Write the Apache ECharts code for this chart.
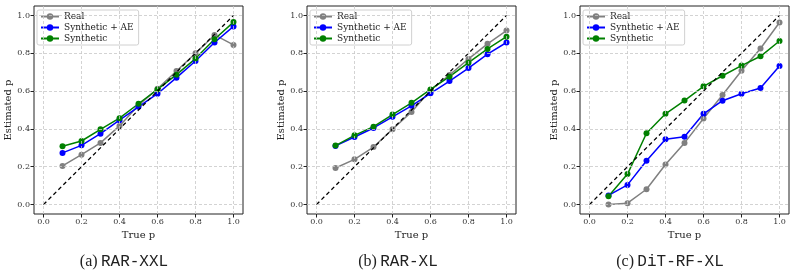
<!DOCTYPE html>
<html>
<head>
<meta charset="utf-8">
<script src="https://cdn.jsdelivr.net/npm/echarts@6/dist/echarts.min.js"></script>
<style>
  html, body { margin: 0; padding: 0; background: #fff; }
  #main { width: 796px; height: 276px; }
</style>
</head>
<body>
<div id="main"></div>
<script>
// true p on the x axis, shared by every panel
var trueP = [0.1, 0.2, 0.3, 0.4, 0.5, 0.6, 0.7, 0.8, 0.9, 1.0];
var tickValues = [0, 0.2, 0.4, 0.6, 0.8, 1.0];
var seriesNames = ['Real', 'Synthetic + AE', 'Synthetic'];
var seriesColors = ['#808080', '#0000ff', '#008000'];
var captions = [['(a)', 'RAR-XXL'], ['(b)', 'RAR-XL'], ['(c)', 'DiT-RF-XL']];

// (a) RAR-XXL
var realA  = [0.204, 0.264, 0.326, 0.416, 0.525, 0.612, 0.706, 0.800, 0.897, 0.844];
var aeA    = [0.273, 0.313, 0.375, 0.446, 0.517, 0.586, 0.671, 0.759, 0.857, 0.942];
var synthA = [0.308, 0.336, 0.398, 0.457, 0.533, 0.609, 0.687, 0.772, 0.874, 0.965];
// (b) RAR-XL
var realB  = [0.193, 0.239, 0.304, 0.398, 0.490, 0.605, 0.685, 0.770, 0.850, 0.920];
var aeB    = [0.310, 0.357, 0.405, 0.464, 0.522, 0.588, 0.653, 0.722, 0.795, 0.857];
var synthB = [0.312, 0.366, 0.412, 0.476, 0.538, 0.609, 0.676, 0.750, 0.823, 0.888];
// (c) DiT-RF-XL
var realC  = [0.000, 0.007, 0.081, 0.212, 0.326, 0.455, 0.579, 0.708, 0.825, 0.963];
var aeC    = [0.048, 0.104, 0.232, 0.345, 0.358, 0.480, 0.549, 0.586, 0.616, 0.733];
var synthC = [0.044, 0.161, 0.377, 0.480, 0.550, 0.625, 0.681, 0.735, 0.784, 0.865];

var panels = [[realA, aeA, synthA], [realB, aeB, synthB], [realC, aeC, synthC]];
var gridLefts = [34, 307, 580];
var captionX = [124, 398, 670];

var chart = echarts.init(document.getElementById('main'));

var serif = 'DejaVu Serif';
var grids = [], xAxes = [], yAxes = [], series = [], legends = [], graphics = [];

var gridMarks = [];
tickValues.forEach(function (v) {
  gridMarks.push({ xAxis: v });
  gridMarks.push({ yAxis: v });
});

for (var k = 0; k < 3; k++) {
  grids.push({
    left: gridLefts[k], top: 6, width: 209, height: 208,
    show: true, borderColor: '#222', borderWidth: 1, backgroundColor: 'transparent'
  });
  xAxes.push({
    type: 'value', gridIndex: k, min: -0.05, max: 1.05,
    name: 'True p', nameLocation: 'middle', nameGap: 12,
    nameTextStyle: { fontFamily: serif, fontSize: 10, color: '#222' },
    axisLine: { show: false, onZero: false },
    axisTick: { show: true, length: 3.5, customValues: tickValues, lineStyle: { color: '#222' } },
    axisLabel: { customValues: tickValues, fontFamily: serif, fontSize: 8, color: '#333', margin: 4,
      formatter: function (v) { return v.toFixed(1); } },
    splitLine: { show: false }
  });
  yAxes.push({
    type: 'value', gridIndex: k, min: -0.05, max: 1.05,
    name: 'Estimated p', nameLocation: 'middle', nameGap: 17,
    nameTextStyle: { fontFamily: serif, fontSize: 10, color: '#222' },
    axisLine: { show: false, onZero: false },
    axisTick: { show: true, length: 3.5, customValues: tickValues, lineStyle: { color: '#222' } },
    axisLabel: { customValues: tickValues, fontFamily: serif, fontSize: 8, color: '#333', margin: 4,
      formatter: function (v) { return v.toFixed(1); } },
    splitLine: { show: false }
  });

  // dashed grid lines
  series.push({
    type: 'line', xAxisIndex: k, yAxisIndex: k, data: [], silent: true, z: 1,
    markLine: {
      silent: true, symbol: ['none', 'none'], label: { show: false },
      lineStyle: { color: '#c8c8c8', type: [3, 2], width: 0.8 },
      emphasis: { disabled: true },
      data: gridMarks
    }
  });

  for (var s = 0; s < 3; s++) {
    var ys = panels[k][s];
    series.push({
      name: seriesNames[s], type: 'line', xAxisIndex: k, yAxisIndex: k,
      data: trueP.map(function (x, i) { return [x, ys[i]]; }),
      symbol: 'circle', symbolSize: 6, showSymbol: true,
      lineStyle: { color: seriesColors[s], width: 1.5 },
      itemStyle: { color: seriesColors[s] },
      emphasis: { disabled: true }, z: 3
    });
  }

  // diagonal y = x
  series.push({
    type: 'line', xAxisIndex: k, yAxisIndex: k, data: [[0, 0], [1, 1]],
    symbol: 'none', silent: true, z: 4,
    lineStyle: { color: '#000', type: [4, 3], width: 1.3 }
  });

  legends.push({
    left: gridLefts[k] + 3, top: 10, orient: 'vertical',
    data: seriesNames, selectedMode: false,
    itemWidth: 18, itemHeight: 8, itemGap: 2,
    padding: [2, 5, 2, 3],
    backgroundColor: 'rgba(255,255,255,0.8)', borderColor: '#d0d0d0', borderWidth: 1, borderRadius: 2,
    textStyle: { fontFamily: serif, fontSize: 9, lineHeight: 8, color: '#222' }
  });

  graphics.push({
    type: 'text', x: captionX[k], y: 262,
    style: {
      text: '{a|' + captions[k][0] + '} {b|' + captions[k][1] + '}',
      align: 'center', verticalAlign: 'middle',
      rich: {
        a: { fontFamily: 'Liberation Serif', fontSize: 16, fill: '#222' },
        b: { fontFamily: 'Liberation Mono', fontSize: 16, fill: '#222' }
      }
    }
  });
}

chart.setOption({
  animation: false,
  grid: grids,
  xAxis: xAxes,
  yAxis: yAxes,
  legend: legends,
  series: series,
  graphic: graphics
});
</script>
</body>
</html>
